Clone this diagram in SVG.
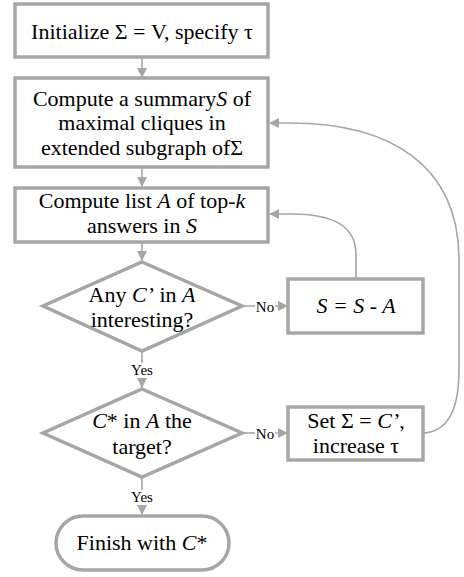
<svg xmlns="http://www.w3.org/2000/svg" width="464" height="577" viewBox="0 0 464 577">
<style>
.n{fill:#fff;stroke:#a6a6a6;stroke-width:3.5}
.t{font-family:'Liberation Serif',serif;font-size:22px;fill:#000;text-anchor:middle}
.l{font-family:'Liberation Serif',serif;font-size:15px;fill:#000;text-anchor:middle}
.c{fill:none;stroke:#a6a6a6;stroke-width:1.6}
.i{font-style:italic}
</style>
<defs>
<marker id="ah" markerWidth="10" markerHeight="10" refX="9" refY="5" orient="auto" markerUnits="userSpaceOnUse">
<path d="M0,0 L10,5 L0,10 Z" fill="#a6a6a6"/>
</marker>
</defs>
<rect width="464" height="577" fill="#fff"/>
<g id="connectors">
<path class="c" d="M142,58 V77" marker-end="url(#ah)"/>
<path class="c" d="M142,167 V186" marker-end="url(#ah)"/>
<path class="c" d="M142,242 V260" marker-end="url(#ah)"/>
<path class="c" d="M142,352 V387" marker-end="url(#ah)"/>
<path class="c" d="M142,478 V514" marker-end="url(#ah)"/>
<path class="c" d="M242,306 H287" marker-end="url(#ah)"/>
<path class="c" d="M242,433 H287" marker-end="url(#ah)"/>
<path class="c" d="M356,278 V255 C356,226 334,214 290,214 H270" marker-end="url(#ah)"/>
<path class="c" d="M423,433 C448,432 459,410 459,370 V260 C459,165 390,123 290,123 H270" marker-end="url(#ah)"/>
<rect x="255" y="299" width="20" height="15" fill="#fff"/>
<text class="l" x="265" y="312">No</text>
<rect x="255" y="426" width="20" height="15" fill="#fff"/>
<text class="l" x="265" y="439">No</text>
<rect x="129" y="363" width="26" height="15" fill="#fff"/>
<text class="l" x="142" y="375">Yes</text>
<rect x="129" y="490" width="26" height="15" fill="#fff"/>
<text class="l" x="142" y="502">Yes</text>
</g>
<g id="init">
<rect class="n" x="15" y="4" width="253" height="53"/>
<text class="t" x="142" y="39">Initialize Σ = V, specify τ</text>
</g>
<g id="summary">
<rect class="n" x="15" y="78" width="253" height="89"/>
<text class="t" x="142" y="106">Compute a summary<tspan class="i">S</tspan> of</text>
<text class="t" x="142" y="130">maximal cliques in</text>
<text class="t" x="142" y="155">extended subgraph ofΣ</text>
</g>
<g id="topk">
<rect class="n" x="15" y="188" width="253" height="54"/>
<text class="t" x="142" y="208">Compute list <tspan class="i">A</tspan> of top-<tspan class="i">k</tspan></text>
<text class="t" x="142" y="233">answers in <tspan class="i">S</tspan></text>
</g>
<g id="interesting">
<path class="n" d="M142,262 L242,306 L142,351 L43,306 Z"/>
<text class="t" x="142" y="302">Any <tspan class="i">C’</tspan> in <tspan class="i">A</tspan></text>
<text class="t" x="142" y="327">interesting?</text>
</g>
<g id="subtract">
<rect class="n" x="288" y="279" width="135" height="54"/>
<text class="t i" x="356" y="313">S = S - A</text>
</g>
<g id="target">
<path class="n" d="M142,389 L242,433 L142,477 L43,433 Z"/>
<text class="t" x="142" y="428"><tspan class="i">C</tspan>* in <tspan class="i">A</tspan> the</text>
<text class="t" x="142" y="454">target?</text>
</g>
<g id="increase">
<rect class="n" x="288" y="407" width="135" height="53"/>
<text class="t" x="356" y="428">Set Σ = <tspan class="i">C’</tspan>,</text>
<text class="t" x="356" y="453">increase τ</text>
</g>
<g id="finish">
<rect class="n" x="56" y="516" width="173" height="54" rx="27"/>
<text class="t" x="142" y="550">Finish with <tspan class="i">C</tspan>*</text>
</g>
</svg>
